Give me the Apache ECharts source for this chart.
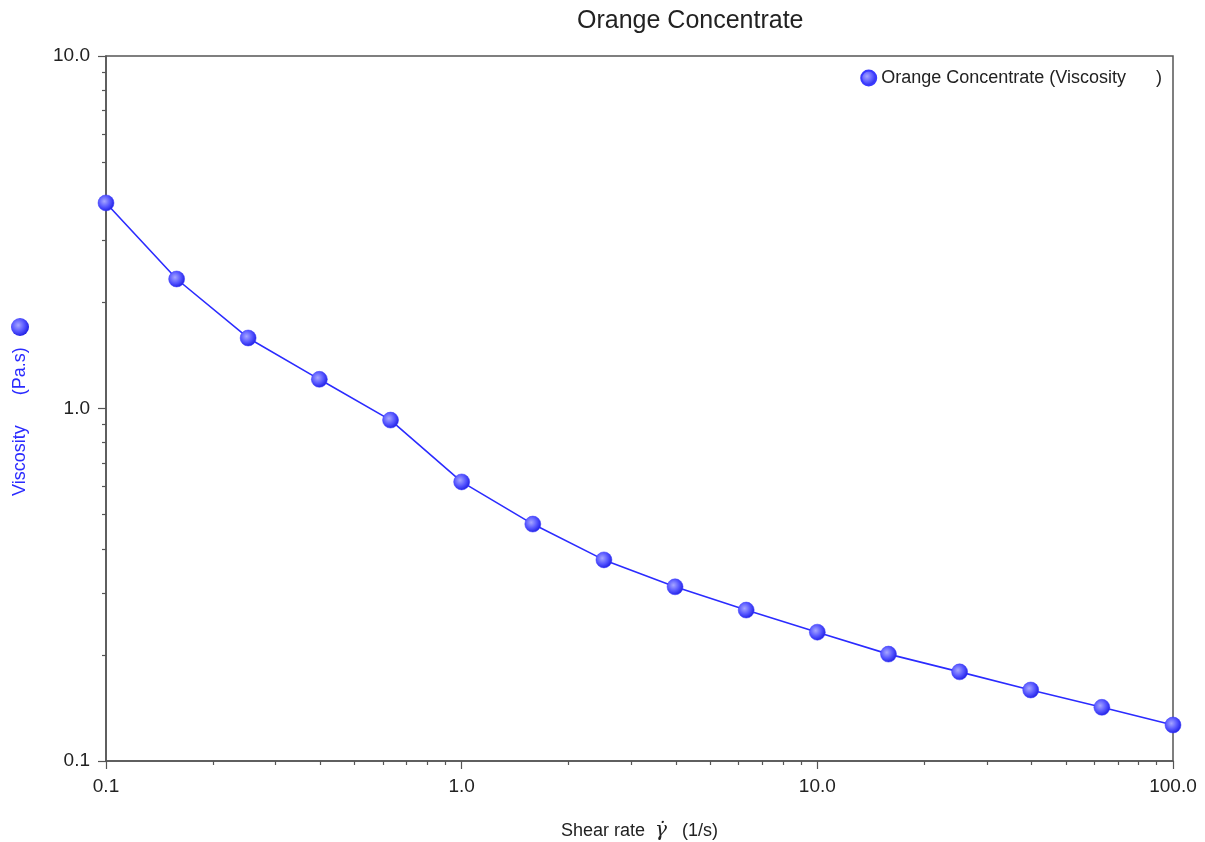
<!DOCTYPE html>
<html>
<head>
<meta charset="utf-8">
<script src="https://cdn.jsdelivr.net/npm/echarts@6/dist/echarts.min.js"></script>
<style>
  html, body { margin: 0; padding: 0; background: #fff; }
  #chart { width: 1205px; height: 842px; }
</style>
</head>
<body>
<div id="chart"></div>
<script>
// Flow curve: viscosity of orange concentrate vs shear rate (log-log)
const shearRate = [0.1, 0.158, 0.251, 0.398, 0.631, 1.0, 1.585, 2.512, 3.981, 6.31, 10.0, 15.85, 25.12, 39.81, 63.1, 100.0];
const viscosity = [3.83, 2.33, 1.585, 1.21, 0.927, 0.619, 0.470, 0.372, 0.312, 0.268, 0.232, 0.201, 0.179, 0.159, 0.142, 0.1265];

const seriesName = 'Orange Concentrate (Viscosity      )';
const titleText = 'Orange Concentrate';
const xAxisTitle = 'Shear rate';
const yAxisTitle = 'Viscosity      (Pa.s)';

const FONT = '"Liberation Sans", Arial, sans-serif';
const BLUE = '#2b2bff';

const sphere = new echarts.graphic.RadialGradient(0.4, 0.4, 0.65, [
  { offset: 0, color: '#a6a6ff' },
  { offset: 0.55, color: '#5555ff' },
  { offset: 1, color: '#1a1ae0' }
]);

const fmt = v => Number(v).toFixed(1);

const chart = echarts.init(document.getElementById('chart'), null, { renderer: 'canvas' });

const axisCommon = {
  type: 'log',
  logBase: 10,
  axisLine: { show: true, lineStyle: { color: '#555', width: 1.5 } },
  axisTick: { show: true, length: 8, inside: false, lineStyle: { color: '#555', width: 1.2 } },
  minorTick: { show: true, splitNumber: 9, length: 4, lineStyle: { color: '#555', width: 1.2 } },
  splitLine: { show: false },
  minorSplitLine: { show: false },
  axisLabel: { formatter: fmt, color: '#222', fontFamily: FONT, fontSize: 19 }
};

chart.setOption({
  animation: false,
  backgroundColor: '#fff',
  title: {
    text: titleText,
    left: 572,
    top: 4,
    textStyle: { fontFamily: FONT, fontSize: 25, fontWeight: 'normal', color: '#222' }
  },
  legend: {
    data: [seriesName],
    right: 38,
    top: 64,
    itemWidth: 15,
    itemHeight: 15,
    itemGap: 6,
    icon: 'circle',
    textStyle: { fontFamily: FONT, fontSize: 18, color: '#222' }
  },
  grid: {
    left: 106, right: 32, top: 56, bottom: 81,
    outerBoundsMode: 'none',
    containLabel: false,
    show: true, borderColor: '#555', borderWidth: 1.5, backgroundColor: 'transparent'
  },
  xAxis: Object.assign({}, axisCommon, {
    min: 0.1, max: 100,
    name: '{t|' + xAxisTitle + '  }{g|\u03b3\u0307}{t|   (1/s)}',
    nameLocation: 'middle',
    nameGap: 60,
    nameTextStyle: {
      rich: {
        t: { fontFamily: FONT, fontSize: 18, color: '#222' },
        g: { fontFamily: '"DejaVu Serif", serif', fontStyle: 'italic', fontSize: 20, color: '#222' }
      }
    },
    axisLabel: Object.assign({}, axisCommon.axisLabel, { margin: 16 })
  }),
  yAxis: Object.assign({}, axisCommon, {
    min: 0.1, max: 10,
    axisLabel: Object.assign({}, axisCommon.axisLabel, { margin: 16 })
  }),
  graphic: [
    {
      type: 'text',
      x: 11, y: 496,
      rotation: Math.PI / 2,
      style: { text: yAxisTitle, fill: BLUE, font: '18px ' + FONT, textAlign: 'left', textVerticalAlign: 'top' }
    },
    {
      type: 'circle',
      shape: { cx: 20, cy: 327, r: 9 },
      style: { fill: sphere }
    }
  ],
  series: [{
    name: seriesName,
    type: 'line',
    data: shearRate.map((x, i) => [x, viscosity[i]]),
    smooth: false,
    symbol: 'circle',
    symbolSize: 16,
    clip: false,
    lineStyle: { color: BLUE, width: 1.6 },
    itemStyle: { color: sphere, borderColor: '#3a3aff', borderWidth: 0.5 }
  }]
});
</script>
</body>
</html>
